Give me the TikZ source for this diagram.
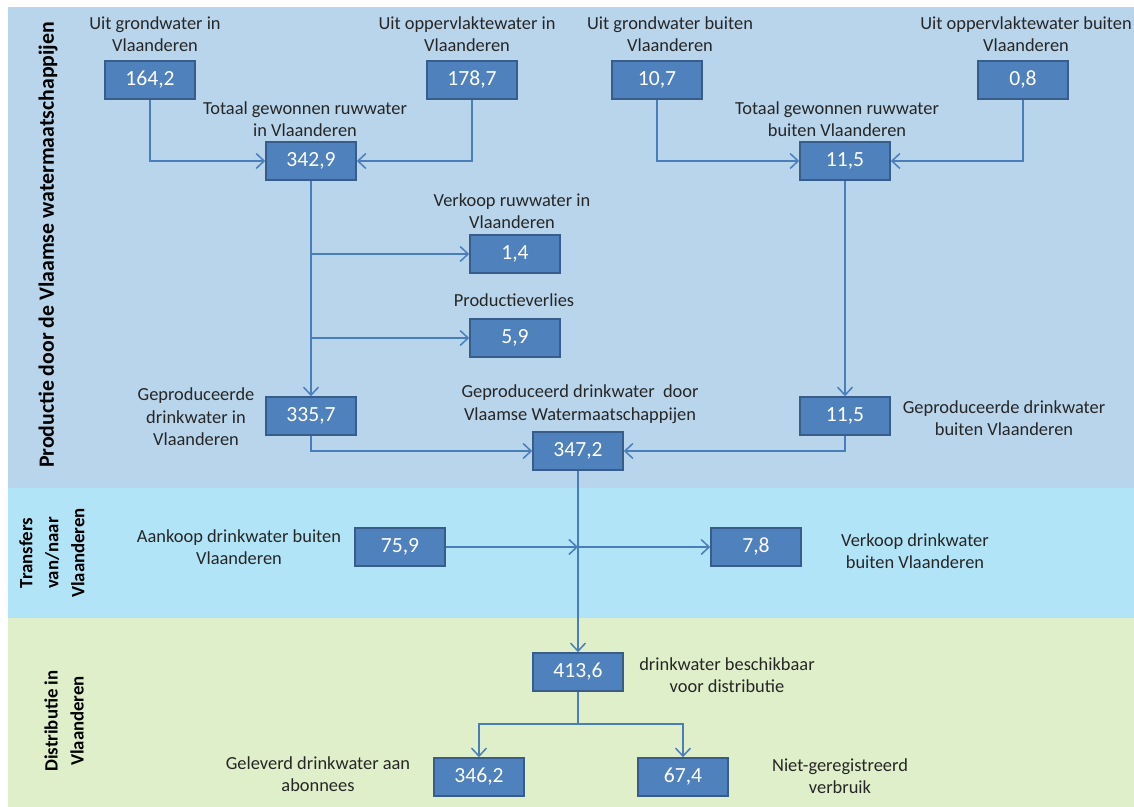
\documentclass[tikz,border=0pt]{standalone}
\usepackage{fontspec}
\setmainfont{Carlito}
\usetikzlibrary{arrows.meta}
\definecolor{prodbg}{RGB}{185,213,236}
\definecolor{transbg}{RGB}{178,228,247}
\definecolor{distbg}{RGB}{223,239,201}
\definecolor{boxfill}{RGB}{79,129,189}
\definecolor{boxline}{RGB}{56,93,138}
\definecolor{flow}{RGB}{74,126,187}

\begin{document}
\begin{tikzpicture}[
  x=0.5pt, y=-0.5pt,
  >={Straight Barb[length=4pt,width=7.5pt]},
  val/.style={draw=boxline, fill=boxfill, line width=0.8pt, text=white,
              minimum width=45pt, minimum height=19pt, inner sep=0pt,
              font=\fontsize{10.8}{12}\selectfont},
  lab/.style={align=center, text=black!85, inner sep=0pt,
              font=\fontsize{9.2}{11.3}\selectfont},
  side/.style={rotate=90, align=center, inner sep=0pt,
               font=\bfseries\fontsize{9.4}{13}\selectfont},
  flw/.style={draw=flow, line width=0.75pt, ->}
]
\useasboundingbox (0,0) rectangle (1134,807);
\fill[white] (0,0) rectangle (1134,807);

% ---------- bands ----------
\fill[prodbg]  (8,7)   rectangle (1134,488);
\fill[transbg] (8,488) rectangle (1134,618);
\fill[distbg]  (8,618) rectangle (1134,807);

\node[side, font=\bfseries\fontsize{10.9}{13}\selectfont] (sprod) at (48,245)
  {Productie door de Vlaamse watermaatschappijen};
\node[side] (strans) at (52,553) {Transfers\\van/naar\\Vlaanderen};
\node[side] (sdist)  at (64,721) {Distributie in\\Vlaanderen};

% ---------- values ----------
\node[val] (n164)  at (150,80)  {164,2};
\node[val] (n178)  at (472,80)  {178,7};
\node[val] (n107)  at (657,80)  {10,7};
\node[val] (n08)   at (1023,80) {0,8};
\node[val] (n342)  at (311,161) {342,9};
\node[val] (n115t) at (845,161) {11,5};
\node[val] (n14)   at (515,254) {1,4};
\node[val] (n59)   at (515,338) {5,9};
\node[val] (n335)  at (311,416) {335,7};
\node[val] (n115b) at (845,416) {11,5};
\node[val] (n347)  at (578,451) {347,2};
\node[val] (n759)  at (400,547) {75,9};
\node[val] (n78)   at (756,547) {7,8};
\node[val] (n413)  at (578,672) {413,6};
\node[val] (n346)  at (479,777) {346,2};
\node[val] (n674)  at (683,777) {67,4};

% ---------- labels ----------
\node[lab] (lgi)  at (155,34)  {Uit grondwater in\\Vlaanderen};
\node[lab] (loi)  at (467,34)  {Uit oppervlaktewater in\\Vlaanderen};
\node[lab] (lgb)  at (670,34)  {Uit grondwater buiten\\Vlaanderen};
\node[lab] (lob)  at (1026,34) {Uit oppervlaktewater buiten\\Vlaanderen};
\node[lab] (ltin) at (305,119) {Totaal gewonnen ruwwater\\in Vlaanderen};
\node[lab] (ltbu) at (837,119) {Totaal gewonnen ruwwater\\buiten Vlaanderen};
\node[lab] (lvr)  at (512,211) {Verkoop ruwwater in\\Vlaanderen};
\node[lab] (lpv)  at (514,300) {Productieverlies};
\node[lab] (lgin) at (196,417) {Geproduceerde\\drinkwater in\\Vlaanderen};
\node[lab] (lgvw) at (580,404) {Geproduceerd drinkwater\ \ door\\Vlaamse Watermaatschappijen};
\node[lab] (lgbu) at (1004,418) {Geproduceerde drinkwater\\buiten Vlaanderen};
\node[lab] (lak)  at (239,547) {Aankoop drinkwater buiten\\Vlaanderen};
\node[lab] (lvk)  at (915,551) {Verkoop drinkwater\\buiten Vlaanderen};
\node[lab] (lbes) at (727,675) {drinkwater beschikbaar\\voor distributie};
\node[lab] (lgel) at (318,774) {Geleverd drinkwater aan\\abonnees};
\node[lab] (lnr)  at (840,776) {Niet-geregistreerd\\verbruik};

% ---------- flows: production ----------
\draw[flw] (n164.south) |- (n342.west);
\draw[flw] (n178.south) |- (n342.east);
\draw[flw] (n107.south) |- (n115t.west);
\draw[flw] (n08.south)  |- (n115t.east);
\draw[flw] (n342.south) -- (n335.north);
\draw[flw] (n342.south |- n14.west) -- (n14.west);
\draw[flw] (n342.south |- n59.west) -- (n59.west);
\draw[flw] (n115t) -- (n115b);
\draw[flw] (n335.south) |- (n347.west);
\draw[flw] (n115b.south) |- (n347.east);

% ---------- flows: transfers ----------
\draw[flw] (n347) -- (n413);
\coordinate (jtr) at (n347.south |- n759.east);
\draw[flw] (n759.east) -- (jtr);
\draw[flw] (jtr) -- (n78.west);

% ---------- flows: distribution ----------
\coordinate (split) at (578,724);
\draw[flw] (n413.south) -- (split) -| (n346.north);
\draw[flw] (split) -| (n674.north);

\end{tikzpicture}
\end{document}
